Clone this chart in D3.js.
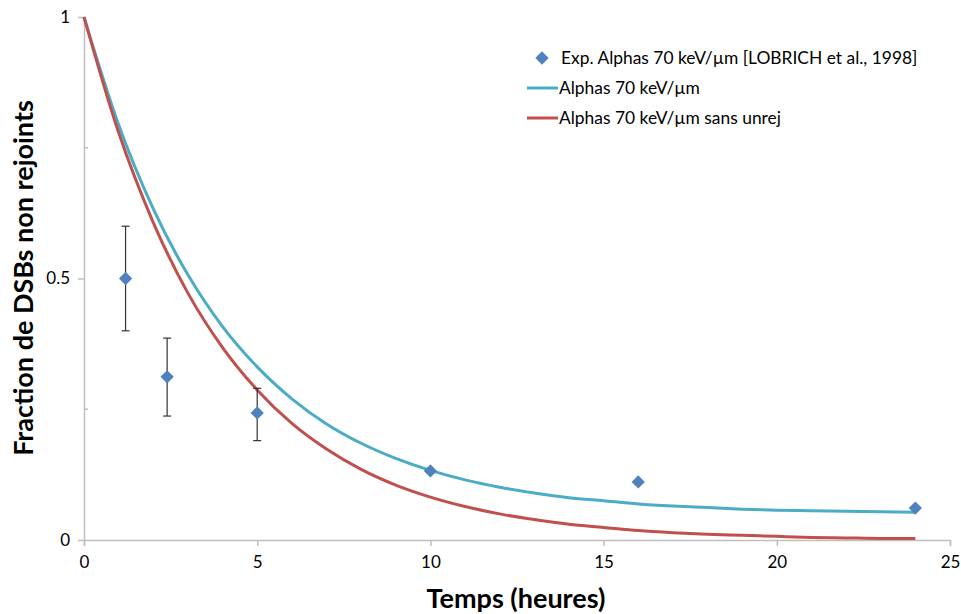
<!DOCTYPE html>
<html>
<head>
<meta charset="utf-8">
<script src="https://cdn.jsdelivr.net/npm/d3@7"></script>
<style>
  body { margin: 0; background: #fff; }
  text { font-family: Lato, "Open Sans", sans-serif; fill: #000; }
</style>
</head>
<body>
<svg id="chart"></svg>
<script>
// experimental points (LOBRICH et al., 1998)
var expTime  = [1.2, 2.4, 5, 10, 16, 24];
var expValue = [0.5, 0.312, 0.243, 0.132, 0.111, 0.061];
var expLow   = [0.40, 0.237, 0.19, null, null, null];
var expHigh  = [0.60, 0.386, 0.29, null, null, null];

// simulated curves
var curveTime = [0, 1, 2, 3, 4, 5, 6, 7, 8, 9, 10, 11, 12, 13, 14, 15, 16, 17, 18, 19, 20, 21, 22, 23, 24];
var alphaValue = [1, 0.794, 0.633, 0.507, 0.408, 0.331, 0.270, 0.222, 0.185, 0.156, 0.133, 0.115, 0.101,
                  0.090, 0.081, 0.075, 0.069, 0.065, 0.062, 0.059, 0.057, 0.056, 0.055, 0.054, 0.053];
var sansUnrejValue = [1, 0.779, 0.607, 0.472, 0.368, 0.287, 0.223, 0.174, 0.135, 0.105, 0.082, 0.064, 0.050,
                      0.039, 0.030, 0.024, 0.018, 0.014, 0.011, 0.009, 0.007, 0.005, 0.004, 0.003, 0.003];

var xTicks = [0, 5, 10, 15, 20, 25];
var yTicks = [0, 0.5, 1];
var yMinorTicks = [0.25, 0.75];

var legendLabels = [
    "Exp. Alphas 70 keV/µm [LOBRICH et al., 1998]",
    "Alphas 70 keV/µm",
    "Alphas 70 keV/µm sans unrej"
];

var dimensions = {
    width: 961,
    height: 614,
    margins: { top: 17, right: 11, bottom: 74, left: 84 }
};
var innerW = dimensions.width - dimensions.margins.left - dimensions.margins.right;
var innerH = dimensions.height - dimensions.margins.top - dimensions.margins.bottom;

var colors = { points: "#4f81bd", alpha: "#4bacc6", sans: "#c0504d", axis: "#bfbfbf" };

var svg = d3.select("#chart")
    .attr("width", dimensions.width)
    .attr("height", dimensions.height);

var g = svg.append("g")
    .attr("transform", "translate(" + dimensions.margins.left + "," + dimensions.margins.top + ")");

var xScale = d3.scaleLinear().domain([0, 25]).range([0, innerW]);
var yScale = d3.scaleLinear().domain([0, 1]).range([innerH, 0]);

// x axis
var xAxis = g.append("g")
    .attr("transform", "translate(0," + innerH + ")")
    .call(d3.axisBottom(xScale).tickValues(xTicks).tickSize(6).tickPadding(10).tickFormat(d3.format("d")));
xAxis.select(".domain").attr("stroke", colors.axis).attr("stroke-width", 1.5);
xAxis.selectAll(".tick line").attr("stroke", colors.axis).attr("stroke-width", 1.5);
xAxis.selectAll("text").style("font-size", "17px").style("font-family", "Lato, sans-serif");

// y axis
var yAxis = g.append("g")
    .call(d3.axisLeft(yScale).tickValues(yTicks).tickSize(6).tickPadding(8).tickSizeOuter(0)
        .tickFormat(function(d) { return d === 0.5 ? "0.5" : d3.format("d")(d); }));
yAxis.select(".domain").attr("stroke", colors.axis).attr("stroke-width", 1.5);
yAxis.selectAll(".tick line").attr("stroke", colors.axis).attr("stroke-width", 1.5);
yAxis.selectAll("text").style("font-size", "17px").style("font-family", "Lato, sans-serif");

// minor ticks (inside)
g.append("g")
    .selectAll("line")
    .data(yMinorTicks)
    .enter()
    .append("line")
    .attr("x1", 0)
    .attr("x2", 4)
    .attr("y1", d => yScale(d))
    .attr("y2", d => yScale(d))
    .attr("stroke", colors.axis)
    .attr("stroke-width", 1.5);

// curves
var line = d3.line()
    .x(d => xScale(d[0]))
    .y(d => yScale(d[1]))
    .curve(d3.curveMonotoneX);

g.append("path")
    .datum(curveTime.map((t, i) => [t, alphaValue[i]]))
    .attr("fill", "none")
    .attr("stroke", colors.alpha)
    .attr("stroke-width", 3)
    .attr("d", line);

g.append("path")
    .datum(curveTime.map((t, i) => [t, sansUnrejValue[i]]))
    .attr("fill", "none")
    .attr("stroke", colors.sans)
    .attr("stroke-width", 3)
    .attr("d", line);

// error bars
var errData = expTime.map((t, i) => ({ t: t, lo: expLow[i], hi: expHigh[i] }))
    .filter(d => d.lo !== null);

var err = g.append("g").selectAll("g")
    .data(errData)
    .enter()
    .append("g")
    .attr("stroke", "#333")
    .attr("stroke-width", 1.2);
err.append("line")
    .attr("x1", d => xScale(d.t)).attr("x2", d => xScale(d.t))
    .attr("y1", d => yScale(d.lo)).attr("y2", d => yScale(d.hi));
err.append("line")
    .attr("x1", d => xScale(d.t) - 4).attr("x2", d => xScale(d.t) + 4)
    .attr("y1", d => yScale(d.lo)).attr("y2", d => yScale(d.lo));
err.append("line")
    .attr("x1", d => xScale(d.t) - 4).attr("x2", d => xScale(d.t) + 4)
    .attr("y1", d => yScale(d.hi)).attr("y2", d => yScale(d.hi));

// diamonds
var diamond = d3.symbol().type(d3.symbolSquare).size(88);
g.append("g")
    .selectAll("path")
    .data(expTime.map((t, i) => [t, expValue[i]]))
    .enter()
    .append("path")
    .attr("d", diamond)
    .attr("transform", d => "translate(" + xScale(d[0]) + "," + yScale(d[1]) + ") rotate(45)")
    .attr("fill", colors.points);

// axis titles
svg.append("text")
    .attr("x", 516)
    .attr("y", 608)
    .style("text-anchor", "middle")
    .style("font-size", "27px")
    .style("font-weight", "bold")
    .text("Temps (heures)");

svg.append("text")
    .attr("transform", "translate(33,278) rotate(-90)")
    .style("text-anchor", "middle")
    .style("font-size", "27px")
    .style("font-weight", "bold")
    .text("Fraction de DSBs non rejoints");

// legend
var legend = svg.append("g").attr("transform", "translate(527,58)");
legend.append("path")
    .attr("d", diamond)
    .attr("transform", "translate(15,0) rotate(45)")
    .attr("fill", colors.points);
legend.append("line")
    .attr("x1", 0).attr("x2", 31).attr("y1", 30).attr("y2", 30)
    .attr("stroke", colors.alpha).attr("stroke-width", 3);
legend.append("line")
    .attr("x1", 0).attr("x2", 31).attr("y1", 60).attr("y2", 60)
    .attr("stroke", colors.sans).attr("stroke-width", 3);
legend.selectAll("text.lbl")
    .data(legendLabels)
    .enter()
    .append("text")
    .attr("class", "lbl")
    .attr("x", (d, i) => i === 0 ? 34 : 32)
    .attr("y", (d, i) => i * 30)
    .attr("dy", "0.35em")
    .style("font-size", "17.4px")
    .text(d => d);
</script>
</body>
</html>
